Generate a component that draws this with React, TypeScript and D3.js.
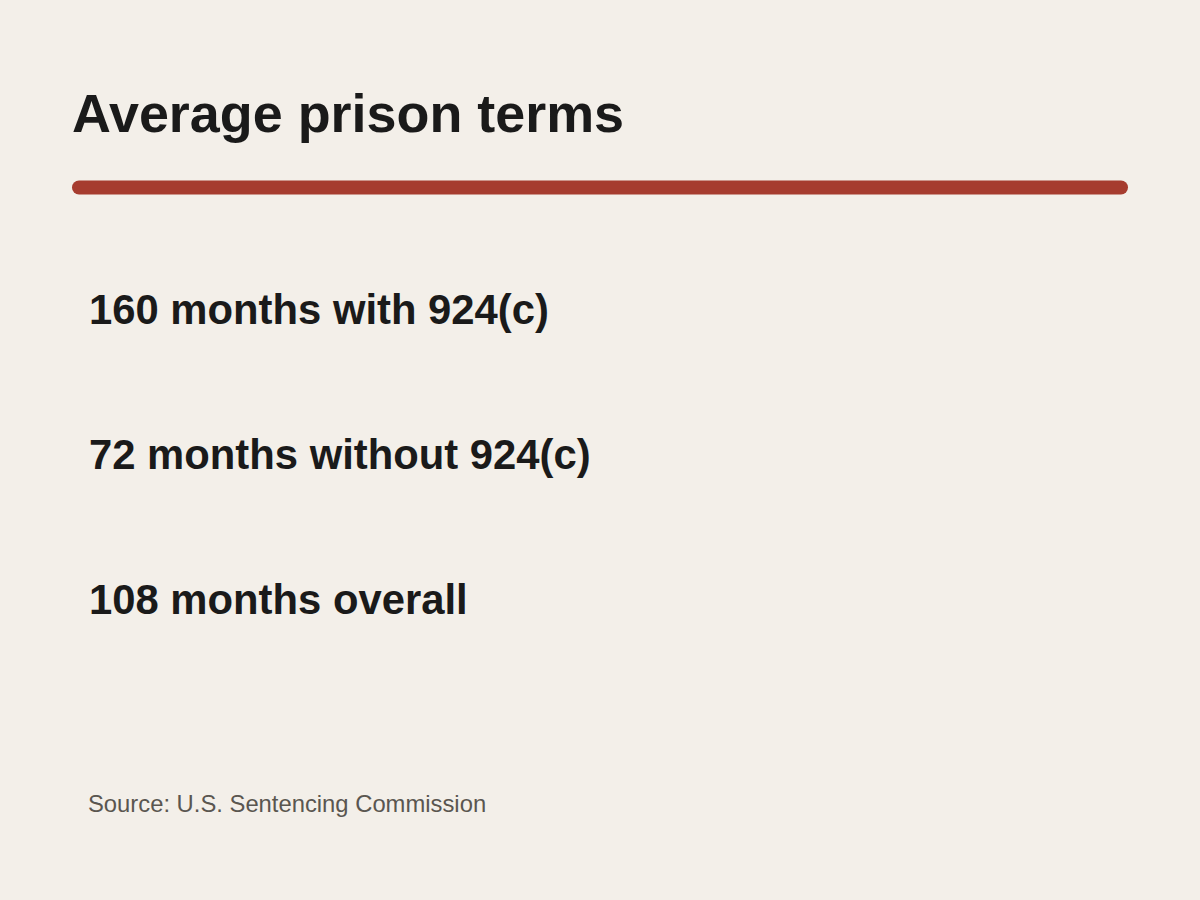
import React from "react";
import * as d3 from "d3";

const title = "Average prison terms";
const categories = ["with 924(c)", "without 924(c)", "overall"];
const months = [160, 72, 108];
const source = "Source: U.S. Sentencing Commission";

const W = 1200;
const H = 900;
const FONT = "'Liberation Sans', Arial, Helvetica, sans-serif";

export default function App() {
  const y = d3.scalePoint<string>().domain(categories).range([324, 614]);
  const fmt = d3.format("d");
  return (
    <svg
      width={W}
      height={H}
      viewBox={`0 0 ${W} ${H}`}
      style={{ position: "absolute", left: 0, top: 0, display: "block" }}
    >
      <rect x={0} y={0} width={W} height={H} fill="#f3efe9" />
      <text
        x={72}
        y={132}
        fontFamily={FONT}
        fontWeight={700}
        fontSize={53.9}
        fill="#1a1a1a"
      >
        {title}
      </text>
      <rect x={72} y={180.5} width={1056} height={14} rx={7} ry={7} fill="#a63c2f" />
      {categories.map((c, i) => (
        <text
          key={c}
          x={89}
          y={y(c)}
          fontFamily={FONT}
          fontWeight={700}
          fontSize={41.8}
          fill="#1a1a1a"
        >
          {`${fmt(months[i])} months ${c}`}
        </text>
      ))}
      <text x={88} y={812} fontFamily={FONT} fontSize={23.8} fill="#5a5650">
        {source}
      </text>
    </svg>
  );
}
